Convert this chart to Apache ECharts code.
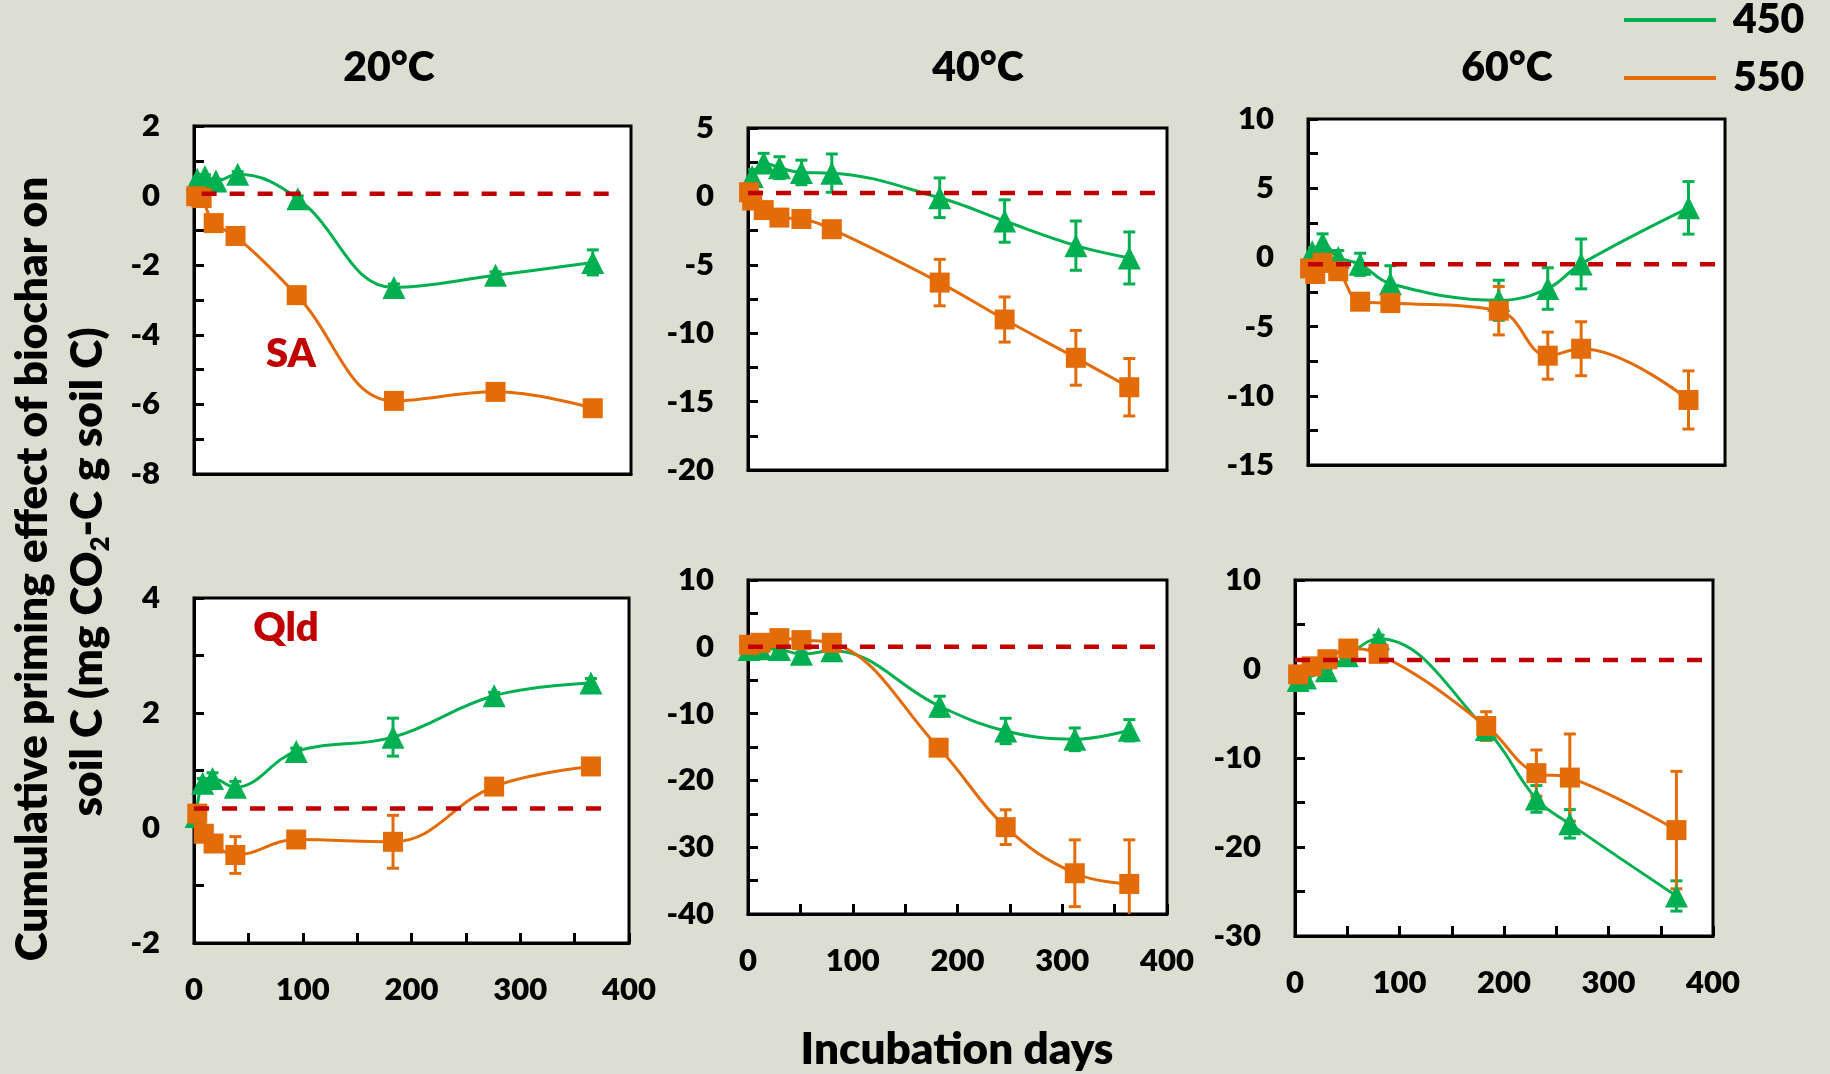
<!DOCTYPE html>
<html>
<head>
<meta charset="utf-8">
<script src="https://cdn.jsdelivr.net/npm/echarts@6/dist/echarts.min.js"></script>
<style>
  html, body { margin: 0; padding: 0; background: #dbded0; }
  #main { width: 1830px; height: 1074px; }
</style>
</head>
<body>
<div id="main"></div>
<script>
// SA soil, 20 C
const sa20Days450 = [3, 10, 20, 40, 95, 183, 276, 365];
const sa20Val450 = [0.47, 0.55, 0.42, 0.61, -0.09, -2.64, -2.29, -1.92];
const sa20Err450 = [0.05, 0.05, 0.05, 0.08, 0.08, 0.1, 0.1, 0.36];
const sa20Days550 = [2, 7, 18, 38, 94, 183, 276, 365];
const sa20Val550 = [-0.02, -0.07, -0.79, -1.16, -2.86, -5.9, -5.64, -6.11];
const sa20Err550 = [0.05, 0.05, 0.06, 0.06, 0.08, 0.1, 0.08, 0.08];

// SA soil, 40 C
const sa40Days450 = [4, 15, 30, 51, 80, 183, 245, 313, 364];
const sa40Val450 = [1.45, 2.45, 2.1, 1.75, 1.7, -0.1, -1.8, -3.6, -4.5];
const sa40Err450 = [0.5, 0.7, 0.8, 0.9, 1.4, 1.45, 1.55, 1.8, 1.9];
const sa40Days550 = [1, 4, 15, 30, 51, 80, 183, 245, 313, 364];
const sa40Val550 = [0.3, -0.3, -1.0, -1.55, -1.65, -2.4, -6.3, -9.0, -11.8, -13.95];
const sa40Err550 = [0.2, 0.2, 0.2, 0.2, 0.2, 0.3, 1.7, 1.65, 2.0, 2.1];

// SA soil, 60 C
const sa60Days450 = [4, 14, 29, 50, 79, 183, 230, 262, 365];
const sa60Val450 = [0.4, 1.0, 0.0, -0.5, -1.9, -3.1, -2.25, -0.47, 3.58];
const sa60Err450 = [0.3, 0.7, 0.5, 0.8, 1.3, 1.45, 1.5, 1.8, 1.9];
const sa60Days550 = [2, 7, 14, 29, 50, 79, 183, 230, 262, 365];
const sa60Val550 = [-0.8, -1.2, -0.4, -1.0, -3.2, -3.3, -3.85, -7.1, -6.6, -10.3];
const sa60Err550 = [0.2, 0.2, 0.2, 0.2, 0.2, 0.2, 1.75, 1.7, 1.95, 2.1];

// Qld soil, 20 C
const qld20Days450 = [2, 8, 17, 38, 94, 183, 276, 365];
const qld20Val450 = [0.2, 0.78, 0.86, 0.71, 1.33, 1.58, 2.3, 2.52];
const qld20Err450 = [0.05, 0.08, 0.1, 0.1, 0.06, 0.33, 0.06, 0.08];
const qld20Days550 = [3, 9, 18, 38, 94, 183, 276, 365];
const qld20Val550 = [0.25, -0.1, -0.27, -0.47, -0.2, -0.24, 0.72, 1.07];
const qld20Err550 = [0.05, 0.05, 0.05, 0.32, 0.1, 0.46, 0.05, 0.05];

// Qld soil, 40 C
const qld40Days450 = [1, 12, 30, 51, 80, 183, 246, 312, 364];
const qld40Val450 = [-0.4, -0.3, -0.4, -1.1, -0.6, -8.9, -12.6, -13.85, -12.5];
const qld40Err450 = [0.3, 0.3, 0.3, 0.3, 0.3, 1.5, 1.9, 1.7, 1.6];
const qld40Days550 = [1, 12, 30, 51, 80, 182, 246, 312, 364];
const qld40Val550 = [0.3, 0.6, 1.3, 1.0, 0.6, -15.1, -27.0, -33.9, -35.5];
const qld40Err550 = [0.2, 0.2, 0.2, 0.2, 0.2, 0.8, 2.6, 5.0, 6.6];

// Qld soil, 60 C
const qld60Days450 = [3, 10, 30, 50, 80, 183, 231, 263, 365];
const qld60Val450 = [-1.3, -1.0, -0.2, 1.5, 3.4, -6.8, -14.6, -17.4, -25.5];
const qld60Err450 = [0.2, 0.2, 0.2, 0.3, 0.4, 1.2, 1.5, 1.6, 1.7];
const qld60Days550 = [3, 16, 31, 51, 80, 183, 231, 263, 365];
const qld60Val550 = [-0.6, 0.3, 1.1, 2.3, 1.7, -6.4, -11.7, -12.2, -18.1];
const qld60Err550 = [0.2, 0.2, 0.2, 0.2, 0.3, 1.6, 2.6, 4.9, 6.6];

// dashed reference line level and x extent per panel
const refLevel = [0.05, 0.25, -0.5, 0.34, 0, 1.0];
const refStart = [7, 0, 0, 0, 0, 0];
const refEnd = [383, 400, 400, 385, 400, 400];

// y axis ranges per panel
const yMin = [-8, -20, -15, -2, -40, -30];
const yMax = [2, 5, 10, 4, 10, 10];
const yStep = [2, 5, 5, 2, 10, 10];

const tempTitles = ['20°C', '40°C', '60°C'];
const soilNames = ['SA', 'Qld'];

const panels = [
  [sa20Days450, sa20Val450, sa20Err450, sa20Days550, sa20Val550, sa20Err550],
  [sa40Days450, sa40Val450, sa40Err450, sa40Days550, sa40Val550, sa40Err550],
  [sa60Days450, sa60Val450, sa60Err450, sa60Days550, sa60Val550, sa60Err550],
  [qld20Days450, qld20Val450, qld20Err450, qld20Days550, qld20Val550, qld20Err550],
  [qld40Days450, qld40Val450, qld40Err450, qld40Days550, qld40Val550, qld40Err550],
  [qld60Days450, qld60Val450, qld60Err450, qld60Days550, qld60Val550, qld60Err550],
];

const GREEN = '#00b050';
const ORANGE = '#e36c09';
const RED = '#c00000';
const FONT = 'Lato, "Open Sans", sans-serif';
const W = 800;

const gridBoxes = [
  { left: 194, top: 126, width: 437, height: 348 },
  { left: 748, top: 128, width: 419, height: 342 },
  { left: 1308, top: 119, width: 417, height: 346 },
  { left: 194, top: 598, width: 435, height: 345 },
  { left: 748, top: 580, width: 419, height: 334 },
  { left: 1295, top: 580, width: 418, height: 356 },
];

let chart = echarts.init(document.getElementById('main'));

function errorBar(params, api) {
  const x = api.value(0);
  const top = api.coord([x, api.value(2)]);
  const bot = api.coord([x, api.value(1)]);
  const hw = 6;
  const style = { stroke: api.visual('color'), lineWidth: 3 };
  return {
    type: 'group',
    children: [
      { type: 'line', shape: { x1: top[0], y1: top[1], x2: bot[0], y2: bot[1] }, style: style },
      { type: 'line', shape: { x1: top[0] - hw, y1: top[1], x2: top[0] + hw, y2: top[1] }, style: style },
      { type: 'line', shape: { x1: bot[0] - hw, y1: bot[1], x2: bot[0] + hw, y2: bot[1] }, style: style },
    ],
  };
}

const grids = [];
const xAxes = [];
const yAxes = [];
const series = [];

panels.forEach((p, i) => {
  const bottomRow = i >= 3;
  grids.push(Object.assign({
    show: true,
    backgroundColor: '#ffffff',
    borderColor: '#000',
    borderWidth: 3,
  }, gridBoxes[i]));

  xAxes.push({
    gridIndex: i,
    type: 'value',
    min: 0,
    max: 400,
    interval: 100,
    axisLine: { show: true, onZero: false, lineStyle: { color: '#000', width: 3 } },
    axisTick: { show: bottomRow, inside: true, length: 10, lineStyle: { color: '#000', width: 3 } },
    minorTick: { show: bottomRow, splitNumber: 2, length: 10, lineStyle: { color: '#000', width: 3 } },
    axisLabel: { show: bottomRow, margin: 31, color: '#000', fontSize: 31, fontWeight: W, fontFamily: FONT },
    splitLine: { show: false },
  });

  yAxes.push({
    gridIndex: i,
    type: 'value',
    min: yMin[i],
    max: yMax[i],
    interval: yStep[i],
    axisLine: { show: true, onZero: false, lineStyle: { color: '#000', width: 3 } },
    axisTick: { show: true, inside: true, length: 10, lineStyle: { color: '#000', width: 3 } },
    minorTick: { show: true, splitNumber: 2, length: 10, lineStyle: { color: '#000', width: 3 } },
    axisLabel: { margin: 34, color: '#000', fontSize: 31, fontWeight: W, fontFamily: FONT },
    splitLine: { show: false },
  });

  const [d450, v450, e450, d550, v550, e550] = p;

  series.push({
    name: '450 error', type: 'custom', xAxisIndex: i, yAxisIndex: i,
    renderItem: errorBar, clip: true, z: 2,
    itemStyle: { color: GREEN },
    data: d450.map((d, j) => [d, v450[j] - e450[j], v450[j] + e450[j]]),
  });
  series.push({
    name: '550 error', type: 'custom', xAxisIndex: i, yAxisIndex: i,
    renderItem: errorBar, clip: true, z: 2,
    itemStyle: { color: ORANGE },
    data: d550.map((d, j) => [d, v550[j] - e550[j], v550[j] + e550[j]]),
  });
  series.push({
    name: '450', type: 'line', xAxisIndex: i, yAxisIndex: i,
    smooth: 0.4, symbol: 'triangle', symbolSize: 23, z: 3,
    itemStyle: { color: GREEN },
    lineStyle: { color: GREEN, width: 3 },
    data: d450.map((d, j) => [d, v450[j]]),
  });
  series.push({
    name: '550', type: 'line', xAxisIndex: i, yAxisIndex: i,
    smooth: 0.4, symbol: 'rect', symbolSize: 20, z: 4,
    itemStyle: { color: ORANGE },
    lineStyle: { color: ORANGE, width: 3 },
    data: d550.map((d, j) => [d, v550[j]]),
  });
  series.push({
    name: 'ref', type: 'line', xAxisIndex: i, yAxisIndex: i,
    symbol: 'none', z: 6, silent: true,
    lineStyle: { color: RED, width: 4.5, type: [15, 13] },
    data: [[refStart[i], refLevel[i]], [refEnd[i], refLevel[i]]],
  });
});

const titleX = [389, 978, 1507];
const graphics = tempTitles.map((t, k) => ({
  type: 'text', x: titleX[k], y: 68,
  style: { text: t, font: W + ' 41px ' + FONT, fill: '#000', align: 'center', verticalAlign: 'middle' },
}));

graphics.push(
  { type: 'text', x: 291, y: 354,
    style: { text: soilNames[0], font: W + ' 40px ' + FONT, fill: RED, align: 'center', verticalAlign: 'middle' } },
  { type: 'text', x: 286, y: 628,
    style: { text: soilNames[1], font: W + ' 40px ' + FONT, fill: RED, align: 'center', verticalAlign: 'middle' } },
  { type: 'text', x: 957, y: 1050,
    style: { text: 'Incubation days', font: W + ' 44px ' + FONT, fill: '#000', align: 'center', verticalAlign: 'middle' } },
  { type: 'text', x: 33, y: 569, rotation: Math.PI / 2,
    style: { text: 'Cumulative priming effect of biochar on', font: W + ' 44px ' + FONT, fill: '#000', align: 'center', verticalAlign: 'middle' } },
  { type: 'text', x: 88, y: 572, rotation: Math.PI / 2,
    style: {
      text: '{a|soil C (mg CO}{s|2}{a|-C g soil C)}',
      align: 'center', verticalAlign: 'middle', fill: '#000',
      rich: {
        a: { font: W + ' 44px ' + FONT, lineHeight: 52, fill: '#000' },
        s: { font: W + ' 26px ' + FONT, lineHeight: 26, verticalAlign: 'bottom', fill: '#000' },
      },
    } }
);

let option = {
  backgroundColor: '#dbded0',
  animation: false,
  legend: {
    data: ['450', '550'],
    orient: 'vertical',
    left: 1624,
    top: -5,
    padding: 0,
    icon: 'rect',
    itemWidth: 92,
    itemHeight: 4,
    itemGap: 8,
    textStyle: { color: '#000', fontSize: 41, fontWeight: W, fontFamily: FONT, lineHeight: 40, padding: [10, 0, 0, 12] },
  },
  grid: grids,
  xAxis: xAxes,
  yAxis: yAxes,
  series: series,
  graphic: graphics,
};

option && chart.setOption(option);
</script>
</body>
</html>
